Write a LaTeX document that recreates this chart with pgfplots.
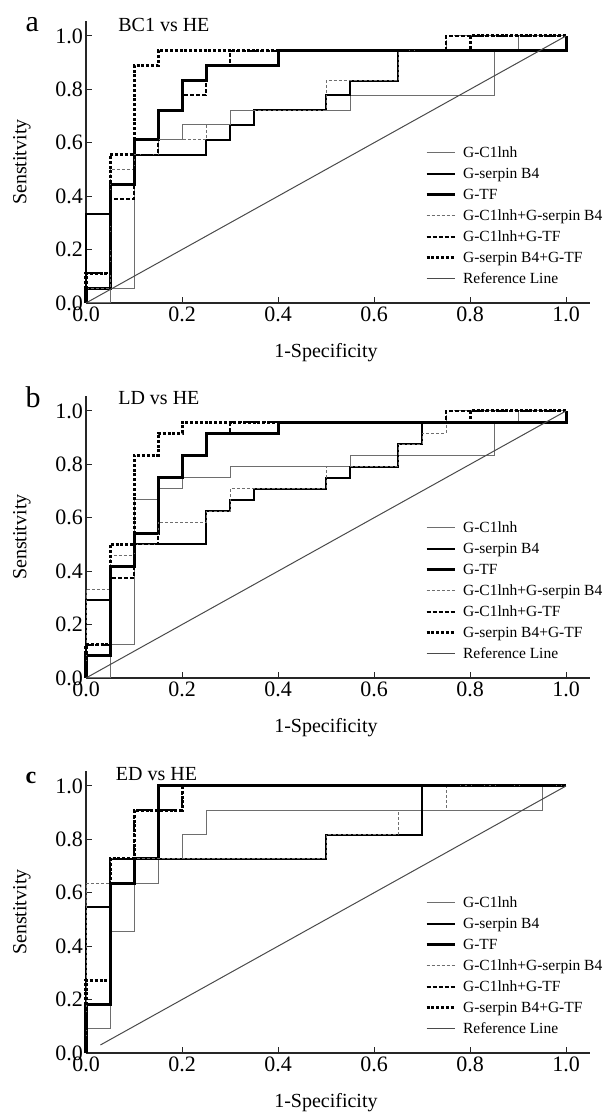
\documentclass[border=0pt]{standalone}
\usepackage{fontspec}
\setmainfont{Liberation Serif}
\usepackage{pgfplots}
\pgfplotsset{compat=1.18}

\definecolor{linegray}{HTML}{6E6E6E}
\definecolor{refgray}{HTML}{4A4A4A}

\newcommand\bigfont{\fontsize{20bp}{24bp}\selectfont}
\newcommand\tickfont{\fontsize{22bp}{26bp}\selectfont}

\pgfplotsset{
  rocaxis/.style={
    scale only axis, width=504bp, height=281.7bp,
    xmin=0, xmax=1.05, ymin=0, ymax=1.055,
    axis x line*=bottom, axis y line*=left,
    axis line style={line width=1.3bp, black!85, -},
    tick align=inside, major tick length=6bp,
    tick style={line width=1bp, black!85},
    xtick={0,0.2,0.4,0.6,0.8,1}, xticklabels={0.0,0.2,0.4,0.6,0.8,1.0},
    ytick={0,0.2,0.4,0.6,0.8,1}, yticklabels={0.0,0.2,0.4,0.6,0.8,1.0},
    tick label style={font=\tickfont},
    xticklabel style={inner sep=0pt, yshift=-4bp},
    yticklabel style={inner sep=0pt, xshift=-3bp},
    clip=false,
    xlabel={1-Specificity}, ylabel={Senstitvity},
    label style={font=\bigfont},
    xlabel style={at={(axis description cs:0.476,-0.195)}, anchor=base},
    ylabel style={at={(axis description cs:-0.127,0.5)}, anchor=center},
    legend cell align=left,
    legend image code/.code={\draw[#1] (0bp,0bp) -- (28bp,0bp);},
    legend style={draw=none, fill=none, inner sep=0pt,
      at={(axis cs:0.706,0.591)}, anchor=north west,
      font=\fontsize{15.5bp}{18bp}\selectfont, row sep=6bp,
      nodes={inner sep=0pt, text height=12bp, text depth=3bp},
      /tikz/every odd column/.append style={column sep=7bp}},
  },
  sC/.style={linegray, line width=1bp, mark=none},
  sS/.style={black, line width=2bp, mark=none},
  sT/.style={black, line width=3bp, mark=none},
  sCS/.style={linegray, line width=1bp, dash pattern=on 3bp off 2bp, mark=none},
  sCT/.style={black, line width=2bp, dash pattern=on 4bp off 2bp, mark=none},
  sST/.style={black, line width=3bp, dash pattern=on 3bp off 1.8bp, mark=none},
  sR/.style={refgray, line width=1bp, mark=none},
}

\newcommand\roclegend{\legend{G-C1lnh, G-serpin B4, G-TF, G-C1lnh+G-serpin B4, G-C1lnh+G-TF, G-serpin B4+G-TF, Reference Line}}

\begin{document}
\begin{tikzpicture}
\useasboundingbox (0,0) rectangle (605bp,1117bp);

% ---------------- a: BC1 vs HE ----------------
\begin{axis}[rocaxis, at={(86bp,814bp)}, anchor=south west]
\addplot[sC] coordinates {(0,0)(0.05,0)(0.05,0.056)(0.1,0.056)(0.1,0.556)(0.15,0.556)(0.15,0.611)(0.2,0.611)(0.2,0.667)(0.3,0.667)(0.3,0.722)(0.55,0.722)(0.55,0.778)(0.85,0.778)(0.85,0.944)(0.9,0.944)(0.9,1)(1,1)};
\addplot[sS] coordinates {(0,0)(0,0.333)(0.05,0.333)(0.05,0.444)(0.1,0.444)(0.1,0.556)(0.25,0.556)(0.25,0.611)(0.3,0.611)(0.3,0.667)(0.35,0.667)(0.35,0.722)(0.5,0.722)(0.5,0.778)(0.55,0.778)(0.55,0.833)(0.65,0.833)(0.65,0.944)(1,0.944)(1,1)};
\addplot[sT] coordinates {(0,0)(0,0.056)(0.05,0.056)(0.05,0.444)(0.1,0.444)(0.1,0.611)(0.15,0.611)(0.15,0.722)(0.2,0.722)(0.2,0.833)(0.25,0.833)(0.25,0.889)(0.4,0.889)(0.4,0.944)(1,0.944)(1,1)};
\addplot[sCS] coordinates {(0,0)(0,0.056)(0.05,0.056)(0.05,0.5)(0.1,0.5)(0.1,0.556)(0.15,0.556)(0.15,0.611)(0.25,0.611)(0.25,0.667)(0.3,0.667)(0.3,0.722)(0.5,0.722)(0.5,0.833)(0.65,0.833)(0.65,0.944)(0.75,0.944)(0.75,1)(1,1)};
\addplot[sCT] coordinates {(0,0)(0,0.111)(0.05,0.111)(0.05,0.389)(0.1,0.389)(0.1,0.556)(0.15,0.556)(0.15,0.722)(0.2,0.722)(0.2,0.778)(0.25,0.778)(0.25,0.889)(0.3,0.889)(0.3,0.944)(0.75,0.944)(0.75,1)(1,1)};
\addplot[sST] coordinates {(0,0)(0,0.111)(0.05,0.111)(0.05,0.556)(0.1,0.556)(0.1,0.889)(0.15,0.889)(0.15,0.944)(0.8,0.944)(0.8,1)(1,1)};
\addplot[sR] coordinates {(0,0)(1,1)};
\roclegend
\node[anchor=base west, font=\fontsize{30bp}{36bp}\selectfont] at (axis cs:-0.133,1.015) {a};
\node[anchor=base west, font=\bigfont] at (axis cs:0.06,1.015) {BC1 vs HE};
\end{axis}

% ---------------- b: LD vs HE ----------------
\begin{axis}[rocaxis, at={(86bp,439bp)}, anchor=south west]
\addplot[sC] coordinates {(0,0)(0.05,0)(0.05,0.125)(0.1,0.125)(0.1,0.667)(0.15,0.667)(0.15,0.708)(0.2,0.708)(0.2,0.75)(0.3,0.75)(0.3,0.792)(0.55,0.792)(0.55,0.833)(0.85,0.833)(0.85,0.958)(0.9,0.958)(0.9,1)(1,1)};
\addplot[sS] coordinates {(0,0)(0,0.292)(0.05,0.292)(0.05,0.417)(0.1,0.417)(0.1,0.5)(0.25,0.5)(0.25,0.625)(0.3,0.625)(0.3,0.667)(0.35,0.667)(0.35,0.708)(0.5,0.708)(0.5,0.75)(0.55,0.75)(0.55,0.792)(0.65,0.792)(0.65,0.875)(0.7,0.875)(0.7,0.958)(1,0.958)(1,1)};
\addplot[sT] coordinates {(0,0)(0,0.083)(0.05,0.083)(0.05,0.417)(0.1,0.417)(0.1,0.542)(0.15,0.542)(0.15,0.75)(0.2,0.75)(0.2,0.833)(0.25,0.833)(0.25,0.917)(0.4,0.917)(0.4,0.958)(1,0.958)(1,1)};
\addplot[sCS] coordinates {(0,0)(0,0.333)(0.05,0.333)(0.05,0.458)(0.1,0.458)(0.1,0.5)(0.15,0.5)(0.15,0.583)(0.25,0.583)(0.25,0.625)(0.3,0.625)(0.3,0.708)(0.5,0.708)(0.5,0.792)(0.65,0.792)(0.65,0.875)(0.7,0.875)(0.7,0.917)(0.75,0.917)(0.75,1)(1,1)};
\addplot[sCT] coordinates {(0,0)(0,0.125)(0.05,0.125)(0.05,0.375)(0.1,0.375)(0.1,0.5)(0.15,0.5)(0.15,0.75)(0.2,0.75)(0.2,0.833)(0.25,0.833)(0.25,0.917)(0.3,0.917)(0.3,0.958)(0.75,0.958)(0.75,1)(1,1)};
\addplot[sST] coordinates {(0,0)(0,0.125)(0.05,0.125)(0.05,0.5)(0.1,0.5)(0.1,0.833)(0.15,0.833)(0.15,0.917)(0.2,0.917)(0.2,0.958)(0.8,0.958)(0.8,1)(1,1)};
\addplot[sR] coordinates {(0,0)(1,1)};
\roclegend
\node[anchor=base west, font=\fontsize{30bp}{36bp}\selectfont] at (axis cs:-0.133,1.012) {b};
\node[anchor=base west, font=\bigfont] at (axis cs:0.06,1.026) {LD vs HE};
\end{axis}

% ---------------- c: ED vs HE ----------------
\begin{axis}[rocaxis, at={(86bp,64bp)}, anchor=south west]
\addplot[sC] coordinates {(0,0)(0,0.091)(0.05,0.091)(0.05,0.455)(0.1,0.455)(0.1,0.636)(0.15,0.636)(0.15,0.727)(0.2,0.727)(0.2,0.818)(0.25,0.818)(0.25,0.909)(0.95,0.909)(0.95,1)(1,1)};
\addplot[sS] coordinates {(0,0)(0,0.545)(0.05,0.545)(0.05,0.727)(0.5,0.727)(0.5,0.818)(0.7,0.818)(0.7,1)(1,1)};
\addplot[sT] coordinates {(0,0)(0,0.182)(0.05,0.182)(0.05,0.636)(0.1,0.636)(0.1,0.727)(0.15,0.727)(0.15,1)(1,1)};
\addplot[sCS] coordinates {(0,0)(0,0.636)(0.05,0.636)(0.05,0.727)(0.5,0.727)(0.5,0.818)(0.65,0.818)(0.65,0.909)(0.75,0.909)(0.75,1)(1,1)};
\addplot[sCT] coordinates {(0,0)(0,0.182)(0.05,0.182)(0.05,0.727)(0.1,0.727)(0.1,0.909)(0.2,0.909)(0.2,1)(1,1)};
\addplot[sST] coordinates {(0,0)(0,0.273)(0.05,0.273)(0.05,0.727)(0.1,0.727)(0.1,0.909)(0.2,0.909)(0.2,1)(1,1)};
\addplot[sR] coordinates {(0.03,0.03)(1,1)};
\roclegend
\node[anchor=base west, font=\bfseries\fontsize{24bp}{29bp}\selectfont] at (axis cs:-0.133,1.011) {c};
\node[anchor=base west, font=\bigfont] at (axis cs:0.055,1.022) {ED vs HE};
\end{axis}
\end{tikzpicture}
\end{document}
